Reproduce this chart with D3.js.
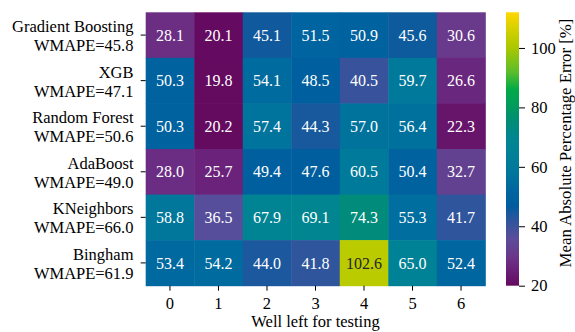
<!DOCTYPE html>
<html>
<head>
<meta charset="utf-8">
<script src="https://cdn.jsdelivr.net/npm/d3@7"></script>
<style>
  body { margin: 0; background: #fff; }
  svg text { font-family: 'Liberation Serif', 'Times New Roman', Times, 'DejaVu Serif', serif; fill: #000; }
</style>
</head>
<body>
<svg width="575" height="332"></svg>
<script>
var svg = d3.select('svg');
var serif = "'Liberation Serif', 'Times New Roman', Times, 'DejaVu Serif', serif";

// data
var models = ['Gradient Boosting', 'XGB', 'Random Forest', 'AdaBoost', 'KNeighbors', 'Bingham'];
var wmape = ['45.8', '47.1', '50.6', '49.0', '66.0', '61.9'];
var wells = ['0', '1', '2', '3', '4', '5', '6'];
var errors = [
  [28.1, 20.1, 45.1, 51.5, 50.9, 45.6, 30.6],
  [50.3, 19.8, 54.1, 48.5, 40.5, 59.7, 26.6],
  [50.3, 20.2, 57.4, 44.3, 57.0, 56.4, 22.3],
  [28.0, 25.7, 49.4, 47.6, 60.5, 50.4, 32.7],
  [58.8, 36.5, 67.9, 69.1, 74.3, 55.3, 41.7],
  [53.4, 54.2, 44.0, 41.8, 102.6, 65.0, 52.4]
];
var colorTicks = [20, 40, 60, 80, 100];
var colorDomain = [20, 112];
// colour stops sampled from the reference colour bar
var cmapValues = [20, 25, 30, 36, 42, 47, 52, 58, 65, 70, 75, 80, 86, 92, 100, 103, 112];
var cmapColors = ['#640a5f', '#6a1f78', '#6b378a', '#5a4d9a', '#2d559c', '#005c9e', '#0065a0',
  '#00769c', '#008296', '#008690', '#008c78', '#009a5e', '#00aa48', '#5cbd2a', '#aac800', '#bdcc00', '#ffd700'];

// layout
var plot = {l: 145.7, t: 12.3, r: 485.3, b: 285.7};
var bar = {l: 506, r: 519};
var labelSize = '16.5px';

var x = d3.scaleBand().domain(wells).range([plot.l, plot.r]);
var y = d3.scaleBand().domain(models).range([plot.t, plot.b]);
var color = d3.scaleLinear().domain(cmapValues).range(cmapColors).clamp(true);

var cells = [];
errors.forEach(function(row, i) {
  row.forEach(function(v, j) {
    cells.push({model: models[i], well: wells[j], value: v});
  });
});

function luminance(c) {
  var rgb = d3.rgb(c);
  var ch = [rgb.r, rgb.g, rgb.b].map(function(u) {
    u = u / 255;
    return u <= 0.03928 ? u / 12.92 : Math.pow((u + 0.055) / 1.055, 2.4);
  });
  return 0.2126 * ch[0] + 0.7152 * ch[1] + 0.0722 * ch[2];
}

svg.selectAll('rect.cell')
  .data(cells)
  .enter()
  .append('rect')
  .attr('class', 'cell')
  .attr('x', d => x(d.well))
  .attr('y', d => y(d.model))
  .attr('width', x.bandwidth() + 0.5)
  .attr('height', y.bandwidth() + 0.5)
  .attr('fill', d => color(d.value));

svg.selectAll('text.annot')
  .data(cells)
  .enter()
  .append('text')
  .attr('class', 'annot')
  .attr('x', d => x(d.well) + x.bandwidth() / 2)
  .attr('y', d => y(d.model) + y.bandwidth() / 2)
  .attr('dy', '0.35em')
  .attr('text-anchor', 'middle')
  .style('font-family', serif)
  .style('font-size', '16px')
  .style('fill', d => luminance(color(d.value)) > 0.408 ? '#262626' : '#ffffff')
  .text(d => d.value.toFixed(1));

// x axis
var xAxis = d3.axisBottom(x).tickSize(5).tickPadding(7);
var gx = svg.append('g')
  .attr('transform', 'translate(0,' + plot.b + ')')
  .call(xAxis);
gx.select('.domain').remove();
gx.selectAll('text').style('font-size', labelSize).style('font-family', serif);
gx.selectAll('line').attr('stroke', '#000').attr('stroke-width', 1);

svg.append('text')
  .attr('x', (plot.l + plot.r) / 2)
  .attr('y', 327)
  .attr('text-anchor', 'middle')
  .style('font-family', serif)
  .style('font-size', labelSize)
  .text('Well left for testing');

// y axis with two-line labels
var yAxis = d3.axisLeft(y).tickSize(5).tickFormat('');
var gy = svg.append('g')
  .attr('transform', 'translate(' + plot.l + ',0)')
  .call(yAxis);
gy.select('.domain').remove();
gy.selectAll('line').attr('stroke', '#000').attr('stroke-width', 1);

var ylab = svg.selectAll('text.ylab')
  .data(models)
  .enter()
  .append('text')
  .attr('class', 'ylab')
  .attr('text-anchor', 'end')
  .attr('x', 133.5)
  .attr('y', d => y(d) + y.bandwidth() / 2)
  .style('font-family', serif)
  .style('font-size', labelSize);
ylab.append('tspan')
  .attr('x', 133.5)
  .attr('dy', '-0.18em')
  .text(d => d);
ylab.append('tspan')
  .attr('x', 133.5)
  .attr('dy', '1.15em')
  .text((d, i) => 'WMAPE=' + wmape[i]);

// colorbar
var cy = d3.scaleLinear().domain(colorDomain).range([plot.b, plot.t]);
var defs = svg.append('defs');
var grad = defs.append('linearGradient')
  .attr('id', 'cbar')
  .attr('x1', 0).attr('y1', 1).attr('x2', 0).attr('y2', 0);
cmapValues.forEach(function(v) {
  grad.append('stop')
    .attr('offset', (v - colorDomain[0]) / (colorDomain[1] - colorDomain[0]))
    .attr('stop-color', color(v));
});
svg.append('rect')
  .attr('x', bar.l)
  .attr('y', cy(colorDomain[1]))
  .attr('width', bar.r - bar.l)
  .attr('height', cy(colorDomain[0]) - cy(colorDomain[1]))
  .attr('fill', 'url(#cbar)');

var cAxis = d3.axisRight(cy).tickValues(colorTicks).tickSize(6).tickPadding(6);
var gc = svg.append('g')
  .attr('transform', 'translate(' + bar.r + ',0)')
  .call(cAxis);
gc.select('.domain').remove();
gc.selectAll('text').style('font-size', labelSize).style('font-family', serif);
gc.selectAll('line').attr('stroke', '#000');

svg.append('text')
  .attr('transform', 'translate(570.5,143) rotate(-90)')
  .attr('text-anchor', 'middle')
  .style('font-family', serif)
  .style('font-size', '16.8px')
  .text('Mean Absolute Percentage Error [%]');
</script>
</body>
</html>
